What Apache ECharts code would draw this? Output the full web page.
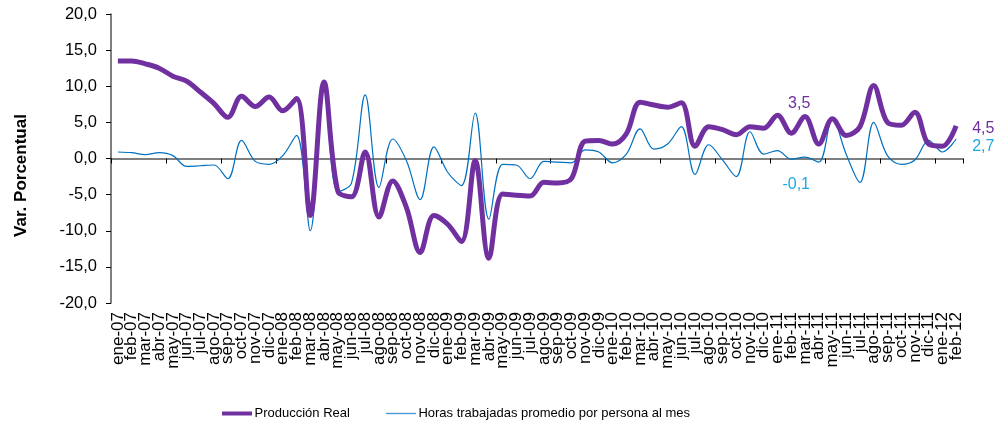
<!DOCTYPE html>
<html><head><meta charset="utf-8">
<script src="https://cdn.jsdelivr.net/npm/echarts@6/dist/echarts.min.js"></script>
<style>html,body{margin:0;padding:0;background:#fff}#c{width:996px;height:423px}</style>
</head><body><div id="c"></div>
<script>
const categories = ['ene-07','feb-07','mar-07','abr-07','may-07','jun-07','jul-07','ago-07','sep-07','oct-07','nov-07','dic-07',
'ene-08','feb-08','mar-08','abr-08','may-08','jun-08','jul-08','ago-08','sep-08','oct-08','nov-08','dic-08',
'ene-09','feb-09','mar-09','abr-09','may-09','jun-09','jul-09','ago-09','sep-09','oct-09','nov-09','dic-09',
'ene-10','feb-10','mar-10','abr-10','may-10','jun-10','jul-10','ago-10','sep-10','oct-10','nov-10','dic-10',
'ene-11','feb-11','mar-11','abr-11','may-11','jun-11','jul-11','ago-11','sep-11','oct-11','nov-11','dic-11',
'ene-12','feb-12'];
const produccion = [13.5,13.5,13.1,12.5,11.4,10.7,9.2,7.6,5.7,8.6,7.2,8.5,
6.6,8.3,-7.9,10.6,-4.5,-5.3,0.9,-8.1,-3.1,-6.8,-13.0,-7.9,
-9.1,-11.5,-0.3,-13.8,-4.9,-5.1,-5.2,-3.3,-3.4,-2.8,2.4,2.5,
2.0,3.4,7.8,7.4,7.1,7.7,1.7,4.4,4.0,3.3,4.4,4.2,
6.0,3.5,5.8,2.0,5.5,3.2,4.4,10.1,5.0,4.6,6.4,2.0,
1.7,4.5];
const horas = [0.9,0.8,0.55,0.8,0.4,-1.1,-1.0,-0.9,-2.8,2.5,-0.4,-0.8,
0.4,3.2,-10.0,10.4,-4.6,-3.4,8.8,-4.0,2.7,-0.3,-5.7,1.6,
-1.9,-3.75,6.3,-8.4,-0.8,-0.9,-2.8,-0.4,-0.5,-0.6,1.2,0.9,
-0.6,0.6,4.1,1.3,2.0,4.4,-2.2,1.9,-0.2,-2.5,3.7,0.6,
1.1,-0.1,0.2,-0.5,5.5,0.6,-3.3,5.0,0.4,-0.8,-0.2,2.5,
0.9,2.7];
const yTicks = [-20,-15,-10,-5,0,5,10,15,20];
const labelIdxProd = [49, 61];
const labelIdxHoras = [49, 61];

const fmt = v => v.toFixed(1).replace('.', ',');
const PURPLE = '#7030A0', BLUE = '#0070C0', CYAN = '#1EA8E0';

function build(values, idxs, color, positions) {
  return values.map((v, i) => {
    const k = idxs.indexOf(i);
    if (k < 0) return v;
    return { value: v, label: { show: true, color: color, fontSize: 16, fontFamily: 'Liberation Sans',
      position: positions[k].pos, offset: positions[k].off, formatter: p => fmt(p.value) } };
  });
}

const chart = echarts.init(document.getElementById('c'), null, { renderer: 'canvas' });
chart.setOption({
  animation: false,
  backgroundColor: '#fff',
  grid: { left: 111, right: 33, top: 14, bottom: 120, containLabel: false },
  legend: {
    top: 402, left: 217, itemGap: 36, itemWidth: 31, itemHeight: 10,
    textStyle: { fontFamily: 'Liberation Sans', fontSize: 13, color: '#000', padding: [0,0,0,-3] },
    data: [
      { name: 'Producción Real', icon: 'path://M0,0M0,10M0,3h30v4h-30z', itemStyle: { color: PURPLE } },
      { name: 'Horas trabajadas promedio por persona al mes', icon: 'path://M0,0M0,10M0,4.3h30v1.4h-30z', itemStyle: { color: '#4A9AD8' } }
    ]
  },
  xAxis: [{
    type: 'category', data: categories, boundaryGap: true,
    axisLine: { onZero: true, lineStyle: { color: '#555', width: 1.5 } },
    axisTick: { show: true, inside: false, length: 5, lineStyle: { color: '#000', width: 1 } },
    axisLabel: { show: false }, splitLine: { show: false }
  }, {
    type: 'category', data: categories, boundaryGap: true, position: 'bottom',
    axisLine: { show: false, onZero: false }, axisTick: { show: false },
    axisLabel: { show: true, interval: 0, rotate: 90, margin: 9, fontFamily: 'Liberation Sans', fontSize: 17, color: '#000' },
    splitLine: { show: false }
  }],
  yAxis: {
    type: 'value', min: -20, max: 20, interval: 5,
    name: 'Var. Porcentual', nameLocation: 'middle', nameRotate: 90, nameGap: 81,
    nameTextStyle: { fontFamily: 'Liberation Sans', fontSize: 17, fontWeight: 'bold', color: '#000', padding: [0, 34, 0, 0] },
    axisLine: { show: true, lineStyle: { color: '#555', width: 1.5 } },
    axisTick: { show: true, length: 5, lineStyle: { color: '#000' } },
    axisLabel: { fontFamily: 'Liberation Sans', fontSize: 16.5, color: '#000', margin: 14,
      formatter: v => yTicks.includes(v) ? fmt(v) : '' },
    splitLine: { show: false }
  },
  series: [{
    name: 'Producción Real', type: 'line', xAxisIndex: 0, smooth: 0.35,
    symbol: 'circle', symbolSize: 0.01, showSymbol: true,
    lineStyle: { color: PURPLE, width: 5 }, itemStyle: { color: PURPLE },
    data: build(produccion, labelIdxProd, PURPLE, [{pos:'top', off:[8,-17]}, {pos:'right', off:[11,3]}]),
    z: 3
  }, {
    name: 'Horas trabajadas promedio por persona al mes', type: 'line', xAxisIndex: 0, smooth: 0.35,
    symbol: 'circle', symbolSize: 0.01, showSymbol: true,
    lineStyle: { color: BLUE, width: 1.2 }, itemStyle: { color: BLUE },
    data: build(horas, labelIdxHoras, CYAN, [{pos:'bottom', off:[5,12]}, {pos:'right', off:[11,8]}]),
    z: 2
  }]
});
</script></body></html>
